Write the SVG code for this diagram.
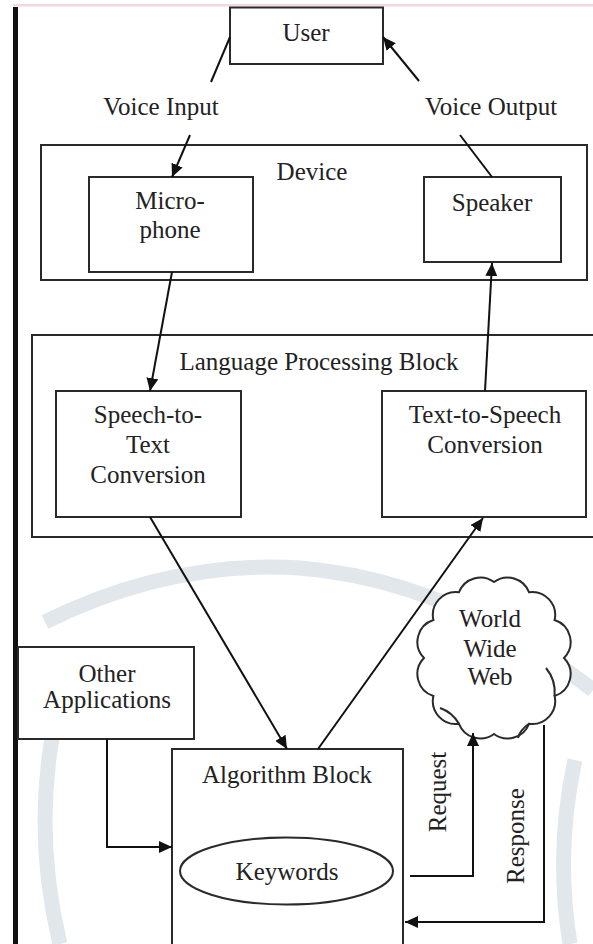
<svg xmlns="http://www.w3.org/2000/svg" width="593" height="944" viewBox="0 0 593 944">
<style>
.box{fill:#fff;stroke:#2a2a2a;stroke-width:2}
.grp{fill:none;stroke:#2a2a2a;stroke-width:2}
.t{font-family:"Liberation Serif","Times New Roman",serif;font-size:25px;fill:#222;text-anchor:middle}
.c{fill:none;stroke:#111;stroke-width:2}
.wm{fill:none;stroke:#e2e7eb;stroke-width:15}
</style>
<defs>
<marker id="ah" markerUnits="userSpaceOnUse" markerWidth="14" markerHeight="12" refX="13" refY="6" orient="auto">
<path d="M0,0 L13,6 L0,12 z" fill="#111"/>
</marker>
</defs>
<rect x="0" y="0" width="593" height="944" fill="#fff"/>
<g id="watermark">
<path class="wm" d="M45,622 Q170,560 300,568 Q450,580 593,690"/>
<path class="wm" d="M60,700 Q30,820 60,944"/>
<path class="wm" d="M575,760 Q555,850 570,944"/>
</g>
<rect x="13" y="4" width="580" height="2.5" fill="#f1d9e2"/>
<rect x="13" y="7" width="5" height="937" fill="#111"/>

<g id="device">
<rect class="grp" x="41" y="145" width="546" height="135"/>
<text class="t" x="312" y="180">Device</text>
</g>
<g id="lpb">
<rect class="grp" x="32" y="335" width="570" height="202"/>
<text class="t" x="319" y="370">Language Processing Block</text>
</g>
<g id="user">
<rect class="box" x="230" y="7.5" width="153" height="56.5"/>
<text class="t" x="306" y="41">User</text>
</g>
<g id="microphone">
<rect class="box" x="89" y="177" width="164" height="95"/>
<text class="t" x="170" y="209">Micro-</text>
<text class="t" x="170" y="238">phone</text>
</g>
<g id="speaker">
<rect class="box" x="424" y="177" width="137" height="85"/>
<text class="t" x="492" y="211">Speaker</text>
</g>
<g id="stt">
<rect class="box" x="56" y="391" width="185" height="126"/>
<text class="t" x="148" y="423">Speech-to-</text>
<text class="t" x="148" y="453">Text</text>
<text class="t" x="148" y="483">Conversion</text>
</g>
<g id="tts">
<rect class="box" x="382" y="391" width="204" height="126"/>
<text class="t" x="485" y="423">Text-to-Speech</text>
<text class="t" x="485" y="453">Conversion</text>
</g>
<g id="other">
<rect class="box" x="18" y="647" width="176" height="92"/>
<text class="t" x="107" y="682">Other</text>
<text class="t" x="107" y="708">Applications</text>
</g>
<g id="algorithm">
<rect class="box" x="172" y="749" width="231" height="200"/>
<text class="t" x="287" y="783">Algorithm Block</text>
<ellipse class="box" cx="286.5" cy="871" rx="106.5" ry="33.5"/>
<text class="t" x="287" y="880">Keywords</text>
</g>
<g id="www">
<path class="box" d="M494,582 A23,23 0 0 1 529,592.2 A23,23 0 0 1 554.6,620 A23,23 0 0 1 564,658 A23,23 0 0 1 554.6,696 A23,23 0 0 1 529,723.8 A23,23 0 0 1 494,734 A23,23 0 0 1 459,723.8 A23,23 0 0 1 433.4,696 A23,23 0 0 1 424,658 A23,23 0 0 1 433.4,620 A23,23 0 0 1 459,592.2 A23,23 0 0 1 494,582 Z"/>
<path class="grp" d="M554.6,696 Q556,680 546,668"/>
<path class="grp" d="M459,723.8 Q452,712 440,708"/>
<path class="grp" d="M529,723.8 Q520,730 518,738"/>
<text class="t" x="490" y="627">World</text>
<text class="t" x="490" y="657">Wide</text>
<text class="t" x="490" y="685">Web</text>
</g>

<g id="labels">
<text class="t" x="161" y="115">Voice Input</text>
<text class="t" x="491" y="115">Voice Output</text>
<text class="t" transform="translate(446,792) rotate(-90)">Request</text>
<text class="t" transform="translate(524,836) rotate(-90)">Response</text>
</g>

<g id="connectors">
<line class="c" x1="230" y1="37" x2="211" y2="82"/>
<line class="c" x1="190" y1="135" x2="172" y2="177" marker-end="url(#ah)"/>
<line class="c" x1="492" y1="177" x2="460" y2="135"/>
<line class="c" x1="419" y1="81" x2="383" y2="37" marker-end="url(#ah)"/>
<line class="c" x1="172" y1="272" x2="150" y2="391" marker-end="url(#ah)"/>
<line class="c" x1="485" y1="391" x2="492" y2="263" marker-end="url(#ah)"/>
<line class="c" x1="150" y1="517" x2="287" y2="749" marker-end="url(#ah)"/>
<line class="c" x1="318" y1="749" x2="483" y2="518" marker-end="url(#ah)"/>
<polyline class="c" points="107,739 107,847 172,847" marker-end="url(#ah)"/>
<polyline class="c" points="410,876 473,876 473,733" marker-end="url(#ah)"/>
<polyline class="c" points="544,725 544,922 405,922" marker-end="url(#ah)"/>
</g>
</svg>
